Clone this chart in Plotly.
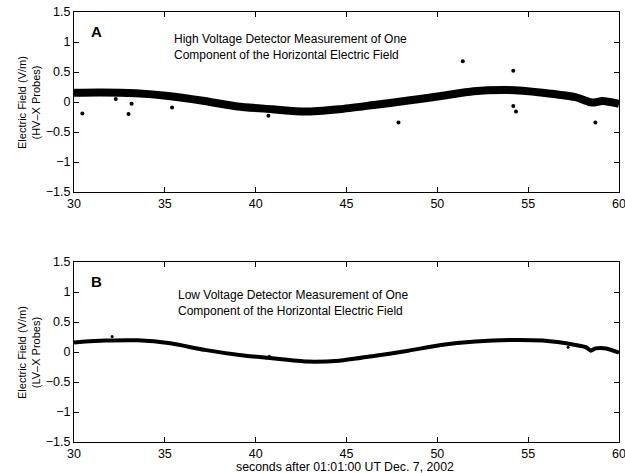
import plotly.graph_objects as go
from plotly.subplots import make_subplots

# Panel A (HV-X probes): band centre line
hv_t = [30.0, 31.5, 33.4, 35.2, 37.1, 39.0, 40.9, 42.7, 44.6, 46.5, 48.3, 50.2,
        52.0, 53.9, 55.8, 57.6, 58.5, 59.1, 60.0]
hv_v = [0.155, 0.16, 0.145, 0.10, 0.02, -0.075, -0.12, -0.16, -0.12, -0.05, 0.02, 0.10,
        0.18, 0.20, 0.155, 0.08, -0.01, 0.015, -0.03]
# Panel A outliers
hv_out_t = [30.46, 32.3, 33.0, 33.17, 35.4, 40.7, 47.86, 51.4, 54.18, 54.18, 54.33, 58.7]
hv_out_v = [-0.19, 0.05, -0.2, -0.03, -0.09, -0.23, -0.34, 0.68, 0.52, -0.067, -0.16, -0.34]

# Panel B (LV-X probes)
lv_t = [30.0, 31.7, 33.5, 35.3, 37.2, 39.1, 40.9, 42.8, 44.6, 46.5, 48.4, 50.2,
        52.1, 54.0, 55.8, 57.6, 58.2, 58.45, 58.7, 59.3, 60.0]
lv_v = [0.16, 0.19, 0.195, 0.145, 0.035, -0.05, -0.105, -0.16, -0.145, -0.067, 0.022, 0.117,
        0.175, 0.20, 0.19, 0.117, 0.078, 0.022, 0.06, 0.06, -0.01]
lv_out_t = [32.1, 40.75, 47.4, 57.2]
lv_out_v = [0.26, -0.07, -0.03, 0.08]

x_ticks = [30, 35, 40, 45, 50, 55, 60]
y_ticks = [-1.5, -1, -0.5, 0, 0.5, 1, 1.5]
y_ticktext = ["\u22121.5", "\u22121", "\u22120.5", "0", "0.5", "1", "1.5"]

FONT = "Liberation Sans, Arial, Helvetica, sans-serif"

fig = make_subplots(rows=2, cols=1, vertical_spacing=0.1628)

fig.add_trace(go.Scatter(x=hv_t, y=hv_v, mode="lines", line=dict(color="black", width=8, shape="spline", smoothing=0.7),
                         showlegend=False), row=1, col=1)
fig.add_trace(go.Scatter(x=hv_out_t, y=hv_out_v, mode="markers", marker=dict(color="black", size=4),
                         showlegend=False), row=1, col=1)
fig.add_trace(go.Scatter(x=lv_t, y=lv_v, mode="lines", line=dict(color="black", width=4, shape="spline", smoothing=0.6),
                         showlegend=False), row=2, col=1)
fig.add_trace(go.Scatter(x=lv_out_t, y=lv_out_v, mode="markers", marker=dict(color="black", size=3),
                         showlegend=False), row=2, col=1)

axis_common = dict(showline=True, linecolor="black", linewidth=1, mirror="ticks", ticks="inside",
                   ticklen=5, tickcolor="black", showgrid=False, zeroline=False,
                   ticklabeloverflow="allow", automargin=False,
                   tickfont=dict(family=FONT, size=12.5, color="black"))

for r in (1, 2):
    fig.update_xaxes(range=[30, 60], tickvals=x_ticks, ticktext=[str(v) for v in x_ticks], row=r, col=1, **axis_common)
    fig.update_yaxes(range=[-1.5, 1.5], tickvals=y_ticks, ticktext=y_ticktext, row=r, col=1, **axis_common)

fig.update_yaxes(domain=[0.5814, 1.0], row=1, col=1)
fig.update_yaxes(domain=[0.0, 0.4186], row=2, col=1)

ann = []
ann.append(dict(text="<b>A</b>", x=0.042, y=0.894, xref="x domain", yref="y domain", showarrow=False,
                font=dict(family=FONT, size=15, color="black"), xanchor="center", yanchor="middle"))
ann.append(dict(text="High Voltage Detector Measurement of One<br>Component of the Horizontal Electric Field",
                x=0.18, y=0.803, xref="x domain", yref="y domain", showarrow=False, align="left",
                font=dict(family=FONT, size=12, color="black"), xanchor="left", yanchor="middle"))
ann.append(dict(text="<b>B</b>", x=0.042, y=0.889, xref="x2 domain", yref="y2 domain", showarrow=False,
                font=dict(family=FONT, size=15, color="black"), xanchor="center", yanchor="middle"))
ann.append(dict(text="Low Voltage Detector Measurement of One<br>Component of the Horizontal Electric Field",
                x=0.187, y=0.77, xref="x2 domain", yref="y2 domain", showarrow=False, align="left",
                font=dict(family=FONT, size=12, color="black"), xanchor="left", yanchor="middle"))
ann.append(dict(text="Electric Field (V/m)<br>(HV\u2013X Probes)", x=-0.0826, y=0.5, xref="paper", yref="y domain",
                showarrow=False, textangle=-90, font=dict(family=FONT, size=11, color="black"),
                xanchor="center", yanchor="middle"))
ann.append(dict(text="Electric Field (V/m)<br>(LV\u2013X Probes)", x=-0.0826, y=0.5, xref="paper", yref="y2 domain",
                showarrow=False, textangle=-90, font=dict(family=FONT, size=11, color="black"),
                xanchor="center", yanchor="middle"))
ann.append(dict(text="seconds after 01:01:00 UT Dec. 7, 2002", x=(345 - 74) / 545, y=-0.058, xref="paper", yref="paper",
                showarrow=False, font=dict(family=FONT, size=12.3, color="black"), xanchor="center", yanchor="middle"))

fig.update_layout(width=625, height=473, margin=dict(l=74, r=6, t=12, b=31, autoexpand=False),
                  paper_bgcolor="white", plot_bgcolor="white", annotations=ann, showlegend=False)

fig.write_html("out.html")
